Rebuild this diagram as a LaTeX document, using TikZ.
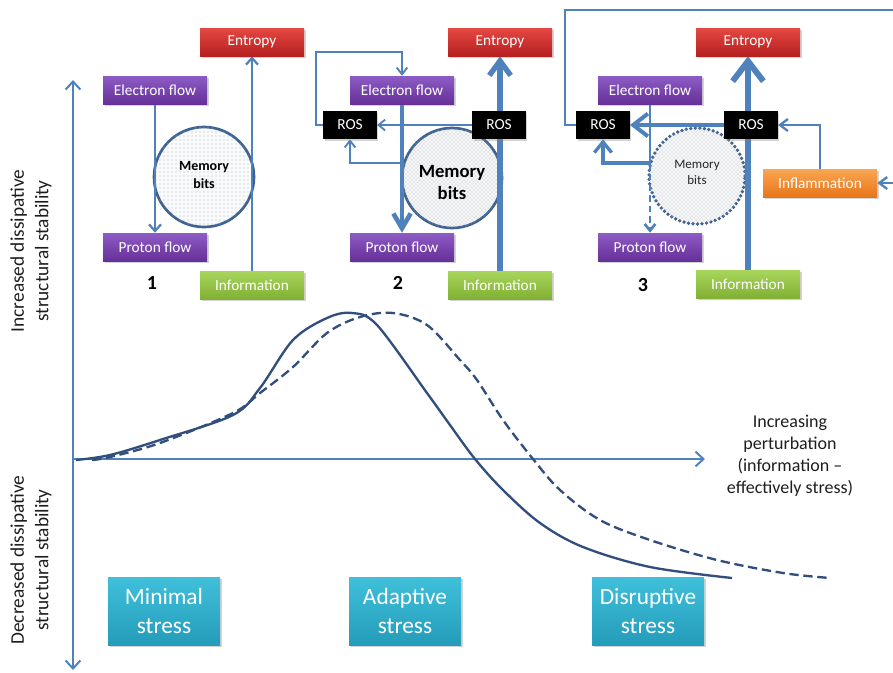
\documentclass[tikz,border=0pt]{standalone}
\usepackage{fontspec}
\setmainfont{Carlito}
\usetikzlibrary{arrows.meta,patterns,shadows,backgrounds,calc}
\definecolor{arrblue}{RGB}{79,129,189}
\definecolor{curveblue}{RGB}{50,78,125}
\definecolor{circblue}{RGB}{62,98,145}
\definecolor{purpTop}{RGB}{140,92,196}
\definecolor{purpBot}{RGB}{102,48,152}
\definecolor{redTop}{RGB}{228,72,66}
\definecolor{redBot}{RGB}{182,32,32}
\definecolor{grnTop}{RGB}{168,214,92}
\definecolor{grnBot}{RGB}{128,176,52}
\definecolor{orTop}{RGB}{250,166,82}
\definecolor{orBot}{RGB}{230,118,26}
\definecolor{tealTop}{RGB}{64,192,218}
\definecolor{tealBot}{RGB}{36,156,186}
\definecolor{textgray}{RGB}{30,30,30}
\begin{document}
\begin{tikzpicture}[x=0.75pt,y=-0.75pt,
  box/.style={minimum width=78pt, minimum height=21pt, inner sep=0pt, text=white,
    font=\fontsize{11.5}{13}\selectfont,
    drop shadow={opacity=0.35, shadow xshift=1.2pt, shadow yshift=-1.2pt}},
  purplebox/.style={box, top color=purpTop, bottom color=purpBot},
  redbox/.style={box, top color=redTop, bottom color=redBot},
  greenbox/.style={box, top color=grnTop, bottom color=grnBot},
  rosbox/.style={box, minimum width=40pt, fill=black},
  orangebox/.style={box, minimum width=85.5pt, top color=orTop, bottom color=orBot},
  tealbox/.style={minimum width=84pt, minimum height=51pt, inner sep=0pt, text=white,
    align=center, font=\fontsize{17.5}{22}\selectfont, top color=tealTop, bottom color=tealBot,
    drop shadow={opacity=0.35, shadow xshift=1.5pt, shadow yshift=-1.5pt}},
  memcirc/.style={circle, inner sep=0pt, minimum size=75pt, draw=circblue, line width=2pt, fill=white!96!arrblue},
  numlabel/.style={font=\bfseries\fontsize{15}{18}\selectfont, text=black},
  axis/.style={draw=arrblue, line width=1.5pt},
  thinarr/.style={draw=arrblue, line width=1.5pt, -{Straight Barb[length=5pt, width=9pt]}},
  thinline/.style={draw=arrblue, line width=1.4pt},
  curve/.style={draw=curveblue, line width=1.75pt},
]
\useasboundingbox (0,0) rectangle (893,672);

% axes
\coordinate (vtop) at (73,80);
\coordinate (vbot) at (73,670);
\coordinate (hleft) at (73,459);
\coordinate (hright) at (705,459);
\draw[axis, {Straight Barb[length=6pt, width=11pt]}-{Straight Barb[length=6pt, width=11pt]}] (vbot) -- (vtop);
\draw[axis, -{Straight Barb[length=6pt, width=11pt]}] (hleft) -- (hright);

% curves
\draw[curve] plot[smooth, tension=0.55] coordinates {(76,460) (110,455) (160,440) (233,415) (260,388) (293,340) (327,318) (352,313) (377,325) (427,393) (450,425) (475,459) (503,490) (540,523) (583,547) (650,567) (732,578)};
\draw[curve, dash pattern=on 7pt off 3.5pt] plot[smooth, tension=0.55] coordinates {(92,460) (110,457) (160,443) (233,413) (260,393) (293,367) (327,333) (360,317) (393,313) (427,325) (460,360) (477,380) (503,420) (533,459) (560,490) (600,520) (650,540) (717,560) (783,573) (830,578)};

% axis labels
\node[rotate=90, align=center, font=\fontsize{14.5}{18.5}\selectfont, text=textgray] (labup) at (31,251) {Increased dissipative\\structural stability};
\node[rotate=90, align=center, font=\fontsize{14.5}{18.5}\selectfont, text=textgray] (labdown) at (31,560) {Decreased dissipative\\structural stability};
\node[align=center, font=\fontsize{13.5}{16.5}\selectfont, text=textgray] (pert) at (790,456) {Increasing\\perturbation\\(information –\\effectively stress)};

% stress boxes
\node[tealbox] (minimal) at (164,611) {Minimal\\stress};
\node[tealbox] (adaptive) at (405,611) {Adaptive\\stress};
\node[tealbox] (disruptive) at (648,611) {Disruptive\\stress};

% panel 1
\node[redbox] (en1) at (252,42) {Entropy};
\node[purplebox] (e1) at (155,90) {Electron flow};
\node[purplebox] (p1) at (155,247) {Proton flow};
\node[greenbox] (i1) at (252,285) {Information};
\node[numlabel] (n1) at (152,283) {1};

% panel 2
\node[redbox] (en2) at (500,42) {Entropy};
\node[purplebox] (e2) at (402,90) {Electron flow};
\node[rosbox] (rosL2) at (350,125) {ROS};
\node[rosbox] (rosR2) at (499,125) {ROS};
\node[purplebox] (p2) at (402,247) {Proton flow};
\node[greenbox] (i2) at (500,285) {Information};
\node[numlabel] (n2) at (398,283) {2};

% panel 3
\node[redbox] (en3) at (748,42) {Entropy};
\node[purplebox] (e3) at (650,90) {Electron flow};
\node[rosbox] (rosL3) at (603,125) {ROS};
\node[rosbox] (rosR3) at (751,125) {ROS};
\node[purplebox] (p3) at (650,247) {Proton flow};
\node[greenbox] (i3) at (748,284) {Information};
\node[orangebox] (infl) at (820,183) {Inflammation};
\node[numlabel] (n3) at (643,285) {3};

\begin{scope}[on background layer]
  % memory circles
  \node[memcirc, postaction={pattern=dots, pattern color=gray!60}] (c1) at (204,177) {};
  \node[font=\bfseries\fontsize{10.5}{13.5}\selectfont, align=center] (m1) at (204,175) {Memory\\bits};
  \node[memcirc, postaction={pattern=crosshatch dots, pattern color=gray!75}] (c2) at (452,178) {};
  \node[font=\bfseries\fontsize{14}{16.5}\selectfont, align=center] (m2) at (452,183) {Memory\\bits};
  \node[memcirc, minimum size=72pt, draw=circblue, line width=2.8pt, line cap=round, dash pattern=on 0pt off 3.4pt,
        postaction={pattern=crosshatch dots, pattern color=gray!70}] (c3) at (697,176) {};
  \node[font=\fontsize{9.75}{12}\selectfont, align=center, text=black!85] (m3) at (697,172) {Memory\\bits};

  % panel 1 connectors
  \draw[thinarr, line width=1.7pt] (e1.south) -- (p1.north);
  \draw[thinarr, line width=1.7pt] (i1.north) -- (en1.south);

  % panel 2 connectors
  \coordinate (l2) at (316,52);
  \coordinate (b2) at (402,163);
  \draw[thinline, -{Straight Barb[length=5pt, width=8pt]}] (rosL2.west) -| (l2) -| (e2.north);
  \draw[thinline, -{Straight Barb[length=5pt, width=8pt]}] (rosR2.west) -- (rosL2.east);
  \draw[thinline, -{Straight Barb[length=5pt, width=8pt]}] (b2) -| (rosL2.south);
  \draw[draw=arrblue, line width=3.5pt, -{Straight Barb[length=11pt, width=13pt]}] (e2.south) -- (p2.north);
  \draw[draw=arrblue, line width=4pt, -{Straight Barb[length=11pt, width=16pt]}] (i2.north) -- (en2.south);

  % panel 3 connectors
  \coordinate (b3) at (650,163);
  \coordinate (t1) at (565,10);
  \coordinate (t2) at (895,10);
  \coordinate (r3) at (895,183);
  \draw[thinline, line width=1.5pt] (rosL3.west) -| (t1) -- (t2);
  \draw[draw=arrblue, line width=2pt] (e3.south) -- (b3);
  \draw[draw=arrblue, line width=2pt, dash pattern=on 5pt off 3pt, -{Straight Barb[length=5pt, width=8pt]}] (b3) -- (p3.north);
  \draw[draw=arrblue, line width=2.5pt, -{Straight Barb[length=8pt, width=13pt]}] (b3) -| (rosL3.south);
  \draw[draw=arrblue, line width=3pt, -{Straight Barb[length=11pt, width=17pt]}] (rosR3.west) -- (rosL3.east);
  \draw[draw=arrblue, line width=4.5pt, -{Straight Barb[length=15pt, width=23pt]}] (i3.north) -- (en3.south);
  \draw[draw=arrblue, line width=1.75pt, -{Straight Barb[length=6pt, width=9pt]}] (infl.north) |- (rosR3.east);
  \draw[draw=arrblue, line width=1.75pt, -{Straight Barb[length=6pt, width=9pt]}] (r3) -- (infl.east);
\end{scope}
\end{tikzpicture}
\end{document}
